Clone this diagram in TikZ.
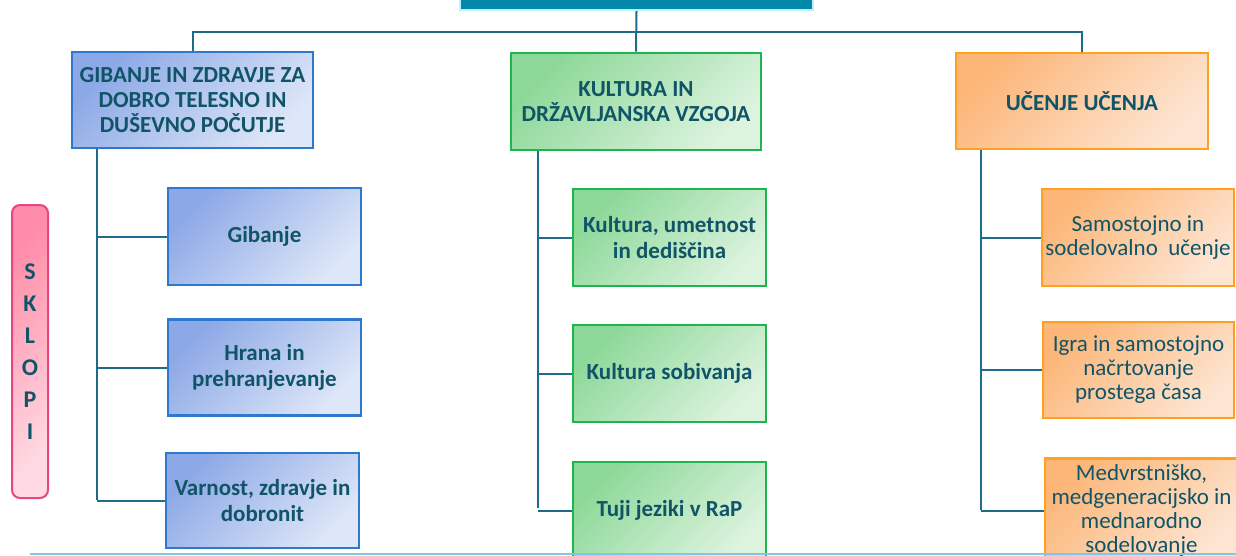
\documentclass[tikz,border=0pt]{standalone}
\usepackage{fontspec}
\setmainfont{Carlito}
\usepackage{tikz}
\usetikzlibrary{positioning}

\definecolor{txtcol}{RGB}{16,84,104}
\definecolor{linecol}{RGB}{31,108,138}
\definecolor{topfill}{RGB}{0,135,169}
\definecolor{topglow}{RGB}{190,240,252}
\definecolor{bluedraw}{RGB}{46,120,205}
\definecolor{bluedark}{RGB}{140,168,230}
\definecolor{bluelight}{RGB}{222,231,248}
\definecolor{greendraw}{RGB}{30,180,80}
\definecolor{greendark}{RGB}{140,216,152}
\definecolor{greenlight}{RGB}{220,243,222}
\definecolor{orangedraw}{RGB}{255,160,30}
\definecolor{orangedark}{RGB}{252,182,120}
\definecolor{orangelight}{RGB}{253,229,210}
\definecolor{pinkdraw}{RGB}{232,70,125}
\definecolor{pinkdark}{RGB}{255,140,168}
\definecolor{pinklight}{RGB}{255,218,226}
\definecolor{bottomcol}{RGB}{126,200,227}

\tikzset{
  box/.style={rectangle, line width=1.3pt, align=center, text=txtcol,
    inner sep=1pt, font=\fontsize{11.5}{12.5}\selectfont\bfseries},
  bluebox/.style={box, draw=bluedraw, top color=bluedark, bottom color=bluelight, shading angle=45},
  greenbox/.style={box, draw=greendraw, top color=greendark, bottom color=greenlight, shading angle=45},
  orangebox/.style={box, draw=orangedraw, top color=orangedark, bottom color=orangelight, shading angle=45},
  subfont/.style={font=\fontsize{11.5}{13}\selectfont\bfseries},
  orangesub/.style={orangebox, font=\fontsize{11.5}{12}\selectfont},
  conn/.style={draw=linecol, line width=1pt},
}

\begin{document}
\begin{tikzpicture}[x=0.5pt, y=-0.5pt]
\clip (0,0) rectangle (1236,556);

% top title bar (cut off)
\node (T) at (636.5,-20) [rectangle, fill=topfill, draw=topglow, line width=1.2pt, minimum width=176.5pt, minimum height=30pt] {};

% three main areas
\node (G) at (192.5,100) [bluebox, minimum width=120.5pt, minimum height=48pt] {GIBANJE IN ZDRAVJE ZA\\DOBRO TELESNO IN\\DUŠEVNO POČUTJE};
\node (K) at (636,101.5) [greenbox, minimum width=125pt, minimum height=48.5pt] {KULTURA IN\\DRŽAVLJANSKA VZGOJA};
\node (U) at (1082,101) [orangebox, minimum width=126pt, minimum height=48pt] {UČENJE UČENJA};

% blue column
\node (G1) at (264.5,236.5) [bluebox, subfont, minimum width=96.5pt, minimum height=48.5pt] {Gibanje};
\node (G2) at (264.5,367.5) [bluebox, subfont, minimum width=96.5pt, minimum height=48pt] {Hrana in\\prehranjevanje};
\node (G3) at (262.5,500.5) [bluebox, subfont, minimum width=96.5pt, minimum height=47.5pt] {Varnost, zdravje in\\dobronit};

% green column
\node (K1) at (669.5,237.5) [greenbox, subfont, minimum width=96.5pt, minimum height=48.5pt] {Kultura, umetnost\\in dediščina};
\node (K2) at (669.5,373.5) [greenbox, subfont, minimum width=96.5pt, minimum height=48.5pt] {Kultura sobivanja};
\node (K3) at (669.5,510.5) [greenbox, subfont, minimum width=96.5pt, minimum height=48.5pt] {Tuji jeziki v RaP};

% orange column
\node (U1) at (1138,237.5) [orangesub, minimum width=96pt, minimum height=48.5pt] {Samostojno in\\sodelovalno \ učenje};
\node (U2) at (1138.5,370) [orangesub, minimum width=95.5pt, minimum height=48pt] {Igra in samostojno\\načrtovanje\\prostega časa};
\node (U3) at (1141.5,510.5) [orangesub, minimum width=96.5pt, minimum height=52pt] {Medvrstniško,\\medgeneracijsko in\\mednarodno\\sodelovanje};

% side label
\node (S) at (30,351.5) [rectangle, rounded corners=4pt, draw=pinkdraw, line width=1pt, top color=pinkdark, bottom color=pinklight, shading angle=45, minimum width=18pt, minimum height=146.5pt, text=txtcol, align=center, font=\fontsize{12}{16}\selectfont\bfseries] {S\\K\\L\\O\\P\\I};

% bus from title to areas
\coordinate (bus) at (636.5,32);
\draw[conn] (T.south) -- (K.north);
\draw[conn] (G.north) |- (bus) -| (U.north);

% trunks
\coordinate (gt) at (97,500);
\coordinate (kt) at (538,508);
\coordinate (ut) at (981,510);
\draw[conn] (G.south -| gt) -- (gt);
\draw[conn] (K.south -| kt) -- (kt);
\draw[conn] (U.south -| ut) -- (ut);

% branches
\foreach \n in {G1,G2,G3} \draw[conn] (\n.west -| gt) -- (\n.west);
\foreach \n in {K1,K2,K3} \draw[conn] (\n.west -| kt) -- (\n.west);
\foreach \n in {U1,U2,U3} \draw[conn] (\n.west -| ut) -- (\n.west);

% slide edge at the bottom
\draw[draw=bottomcol, line width=1pt] (30,553.5) -- (1236,553.5);

\end{tikzpicture}
\end{document}
